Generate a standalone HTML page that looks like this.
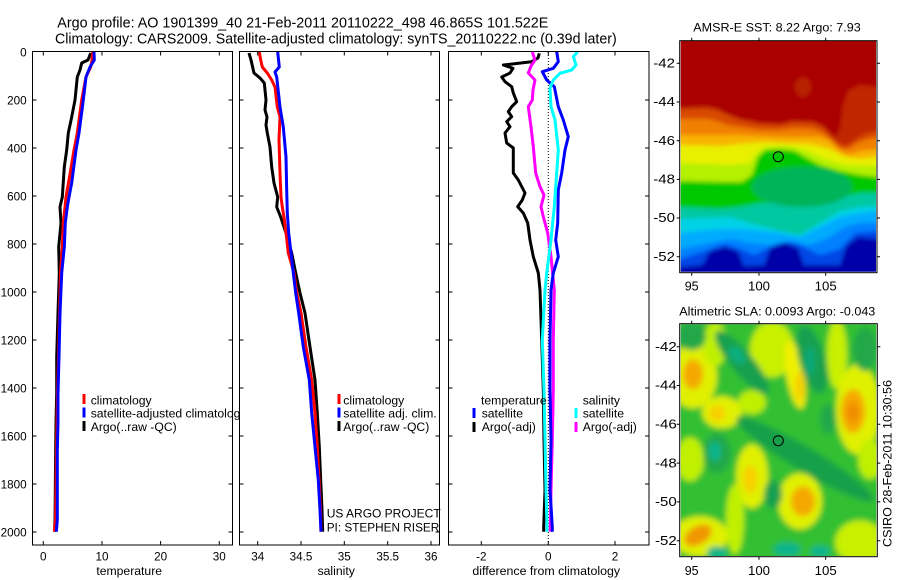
<!DOCTYPE html>
<html><head><meta charset="utf-8"><style>
html,body{margin:0;padding:0;background:#fff;width:900px;height:580px;overflow:hidden}
svg{display:block}
text{font-family:"Liberation Sans",Arial,sans-serif;fill:#000}
</style></head><body>
<svg width="900" height="580" viewBox="0 0 900 580" xmlns="http://www.w3.org/2000/svg">
<defs>
<clipPath id="c1"><rect x="0.7" y="0" width="195.3" height="230.7"/></clipPath>
<clipPath id="c2"><rect x="0.7" y="0" width="195.6" height="231.7"/></clipPath>
<filter id="bl" x="-10%" y="-10%" width="120%" height="120%"><feGaussianBlur stdDeviation="2"/></filter>
<filter id="bl2" x="-10%" y="-10%" width="120%" height="120%"><feGaussianBlur stdDeviation="3"/></filter>
</defs>
<rect width="900" height="580" fill="#fff"/>

<!-- Titles -->
<text x="57.3" y="27.3" font-size="14.5" textLength="491" lengthAdjust="spacingAndGlyphs">Argo profile: AO 1901399_40 21-Feb-2011 20110222_498 46.865S 101.522E</text>
<text x="55" y="43.3" font-size="14.5" textLength="561.7" lengthAdjust="spacingAndGlyphs">Climatology: CARS2009. Satellite-adjusted climatology: synTS_20110222.nc (0.39d later)</text>

<!-- ===== Panel 1: temperature ===== -->
<rect x="32.5" y="51.5" width="200" height="493.5" fill="#fff" stroke="none"/>
<g fill="none" stroke-width="3" stroke-linejoin="round">
<polyline stroke="#000" points="90.7,53 88,60 81.7,63 80,70 77.3,77 75,100 71.7,117 68.3,133 66.7,150 64.3,167 62.3,197 60,207 61,223 58.7,247 59.3,273 58,313 56.7,357 56.7,393 56,423 55.7,450 55,520 54.5,531.7"/>
<polyline stroke="#f00" points="92.7,52 92,60 90.7,67 86,77 81.7,100 77.3,133 74,150 69,180 66,197 65,207 63.3,223 62.3,247 60.5,273 59.5,313 58.5,357 57.5,393 57,423 56.5,450 55.5,520 54.3,531.7"/>
<polyline stroke="#00f" points="94,52 94.3,60 90,67 86,77 83.3,100 79,133 76,150 71.7,183 69,197 67.3,207 65.3,223 64.3,247 61.7,273 60,313 59,357 58,393 58,423 57.3,450 57.3,520 56.3,531.7"/>
</g>
<rect x="82.5" y="394" width="3" height="10" fill="#f00"/>
<rect x="82.5" y="407.5" width="3" height="10" fill="#00f"/>
<rect x="82.5" y="421" width="3" height="10" fill="#000"/>
<text x="90.7" y="404.3" font-size="12.2">climatology</text>
<text x="90.7" y="417.7" font-size="12.2">satellite-adjusted climatology</text>
<text x="90.7" y="431" font-size="12.2">Argo(..raw -QC)</text>

<!-- ===== Panel 2: salinity ===== -->
<rect x="239.5" y="51.5" width="200" height="493.5" fill="#fff" stroke="none"/>
<g fill="none" stroke-width="3" stroke-linejoin="round">
<polyline stroke="#000" points="249,53 251,60 254,73 260,78 264.3,83 266,100 265,110 267,117 266,125 267.3,133 270,147 271.7,167 274,183 277.7,197 276.7,207 280.7,217 286,233 291.7,253 295.7,273 300,293 305,313 310,347 315,380 317.3,413 319.3,447 320.7,480 322,510 322.7,531.7"/>
<polyline stroke="#f00" points="259.3,52 260.7,60 262.3,67 267.3,73 271.7,80 275,87 277.3,107 280,117 279,140 280,173 281,197 282.3,207 284,217 286,233 288.3,253 294,273 296.7,293 301,313 306,347 311.7,380 315,413 317.3,447 319,480 320.5,510 321,531.7"/>
<polyline stroke="#00f" points="277.7,52 279.3,67 275,72 276.7,77 280,107 283.3,127 286,157 286.7,190 287.3,213 288.7,233 291,253 293.3,273 295.7,293 298.7,313 303.3,347 309.3,380 311.7,413 315,447 318.3,480 320,510 321,531.7"/>
</g>
<rect x="337.5" y="394" width="3" height="10" fill="#f00"/>
<rect x="337.5" y="407.5" width="3" height="10" fill="#00f"/>
<rect x="337.5" y="421" width="3" height="10" fill="#000"/>
<text x="343.3" y="404.3" font-size="12.2">climatology</text>
<text x="343.3" y="417.7" font-size="12.2" textLength="93.4" lengthAdjust="spacingAndGlyphs">satellite adj. clim.</text>
<text x="343.3" y="431" font-size="12.2">Argo(..raw -QC)</text>
<text x="326.7" y="517.7" font-size="12.2" textLength="114" lengthAdjust="spacingAndGlyphs">US ARGO PROJECT</text>
<text x="326.7" y="531.7" font-size="12.2" textLength="112.6" lengthAdjust="spacingAndGlyphs">PI: STEPHEN RISER</text>

<!-- ===== Panel 3: differences ===== -->
<rect x="448.5" y="51.5" width="200.5" height="493.5" fill="#fff" stroke="none"/>
<line x1="548.3" y1="52" x2="548.3" y2="545" stroke="#000" stroke-width="1" stroke-dasharray="1 2"/>
<g fill="none" stroke-width="3" stroke-linejoin="round">
<polyline stroke="#000" points="539.3,53.3 538,58 531.7,61.7 503.3,65 513,68.3 510,73 501.7,77 505,81.7 511.7,86.7 513.3,93 516.7,101.7 511.7,106.7 508.3,111.7 511.7,116.7 506.7,121.7 510,126.7 505,133 506.7,143 513.3,148 513.3,173 518.3,180 525,193 522.3,200 517.7,206.7 523.3,213 527.7,223 530,240 533.3,256.7 538.3,273 540,290 541.7,340 543.3,390 544,440 545,490 543.7,527 543.7,531.7"/>
<polyline stroke="#f0f" points="532.3,52 535,60 531,66 528.3,73 535,80 533,90 532.3,100 528.3,106.7 531,126.7 533.3,146.7 535.7,173 540,186.7 544,195 541,206.7 543.3,216.7 547.7,233 551,256.7 554.3,290 553.3,340 553.3,390 552.3,440 551,490 550.3,531.7"/>
<polyline stroke="#00f" points="556.7,51.7 558.3,61.7 553.3,68.3 542.3,71.7 546.7,80 554.3,86.7 558.3,106.7 563.3,120 568.3,136.7 565,150 561.7,173 558.3,190 557.7,223 555.7,240 558.3,256.7 553.3,273 551,290 550,340 550,390 551,440 550,490 552.3,527 552.3,531.7"/>
<polyline stroke="#0ff" points="577.7,51.7 573.3,56.7 576,65 571.7,70 560,73.3 553.3,80 550,88.3 551,106.7 555,120 558.3,150 556.7,173 554.3,206.7 551,240 546.7,273 545,290 542.3,340 544,390 545,440 546,490 547,527 547,531.7"/>
</g>
<text x="481" y="404.3" font-size="12.2">temperature</text>
<rect x="472.5" y="408" width="3" height="10" fill="#00f"/>
<rect x="472.5" y="422" width="3" height="10" fill="#000"/>
<text x="481.7" y="417.7" font-size="12.2">satellite</text>
<text x="481.7" y="431" font-size="12.2">Argo(-adj)</text>
<text x="582.7" y="404.3" font-size="12.2">salinity</text>
<rect x="574.5" y="408" width="3" height="10" fill="#0ff"/>
<rect x="574.5" y="422" width="3" height="10" fill="#f0f"/>
<text x="582.7" y="417.7" font-size="12.2">satellite</text>
<text x="582.7" y="431" font-size="12.2">Argo(-adj)</text>

<!-- Panel boxes & ticks -->
<g fill="none" stroke="#000" stroke-width="1">
<rect x="32.5" y="51.5" width="200" height="493.5"/>
<rect x="239.5" y="51.5" width="200" height="493.5"/>
<rect x="448.5" y="51.5" width="200.5" height="493.5"/>
<path d="M32.5 100h4M32.5 148h4M32.5 196h4M32.5 244h4M32.5 292h4M32.5 340h4M32.5 388h4M32.5 436h4M32.5 484h4M32.5 532h4
M232.5 100h-4M232.5 148h-4M232.5 196h-4M232.5 244h-4M232.5 292h-4M232.5 340h-4M232.5 388h-4M232.5 436h-4M232.5 484h-4M232.5 532h-4
M239.5 100h4M239.5 148h4M239.5 196h4M239.5 244h4M239.5 292h4M239.5 340h4M239.5 388h4M239.5 436h4M239.5 484h4M239.5 532h4
M439.5 100h-4M439.5 148h-4M439.5 196h-4M439.5 244h-4M439.5 292h-4M439.5 340h-4M439.5 388h-4M439.5 436h-4M439.5 484h-4M439.5 532h-4
M448.5 100h4M448.5 148h4M448.5 196h4M448.5 244h4M448.5 292h4M448.5 340h4M448.5 388h4M448.5 436h4M448.5 484h4M448.5 532h4
M649 100h-4M649 148h-4M649 196h-4M649 244h-4M649 292h-4M649 340h-4M649 388h-4M649 436h-4M649 484h-4M649 532h-4
M43.3 51.5v4M102 51.5v4M160.6 51.5v4M219.3 51.5v4M43.3 545v-4M102 545v-4M160.6 545v-4M219.3 545v-4
M257.7 51.5v4M301 51.5v4M344.3 51.5v4M387.7 51.5v4M431 51.5v4M257.7 545v-4M301 545v-4M344.3 545v-4M387.7 545v-4M431 545v-4
M481.3 51.5v4M548.3 51.5v4M615 51.5v4M481.3 545v-4M548.3 545v-4M615 545v-4"/>
</g>

<!-- Y tick labels -->
<g font-size="11.7" text-anchor="end">
<text x="26.7" y="56.3">0</text>
<text x="26.7" y="104.3">200</text>
<text x="26.7" y="152.3">400</text>
<text x="26.7" y="200.3">600</text>
<text x="26.7" y="248.3">800</text>
<text x="26.7" y="296.3">1000</text>
<text x="26.7" y="344.3">1200</text>
<text x="26.7" y="392.3">1400</text>
<text x="26.7" y="440.3">1600</text>
<text x="26.7" y="488.3">1800</text>
<text x="26.7" y="536.3">2000</text>
</g>
<!-- X tick labels -->
<g font-size="11.7" text-anchor="middle">
<text x="43.3" y="560.7">0</text>
<text x="102" y="560.7">10</text>
<text x="160.6" y="560.7">20</text>
<text x="219.3" y="560.7">30</text>
<text x="257.7" y="560.7">34</text>
<text x="301" y="560.7">34.5</text>
<text x="344.3" y="560.7">35</text>
<text x="387.7" y="560.7">35.5</text>
<text x="431" y="560.7">36</text>
<text x="481.3" y="560.7">-2</text>
<text x="548.3" y="560.7">0</text>
<text x="615" y="560.7">2</text>
</g>
<g font-size="12.2" text-anchor="middle">
<text x="129.2" y="575">temperature</text>
<text x="336.2" y="575">salinity</text>
<text x="546.2" y="575" textLength="147.7" lengthAdjust="spacingAndGlyphs">difference from climatology</text>
</g>

<!-- ===== SST map ===== -->
<text x="693.3" y="31.7" font-size="12.4" textLength="167.4" lengthAdjust="spacingAndGlyphs">AMSR-E SST: 8.22 Argo: 7.93</text>
<g transform="translate(680,41)">
<g clip-path="url(#c1)">
<g filter="url(#bl)">
<rect x="-10" y="-10" width="217" height="251" fill="#0000a8"/>
<path fill="#0046e6" d="M-10,226 L0,226 22,224 30,210 45,206 58,210 64,225 84,224 90,207 105,202 118,207 124,224 160,224 166,205 178,196 197,198 207,198 207,-10 -10,-10Z"/>
<path fill="#0080ff" d="M-10,218 L0,218 25,210 45,203 60,208 75,214 90,206 105,200 120,204 140,214 160,208 175,192 197,190 207,190 207,-10 -10,-10Z"/>
<path fill="#00aaff" d="M-10,208 L0,208 30,202 50,198 70,202 90,204 110,200 130,204 150,196 165,186 180,182 197,182 207,182 207,-10 -10,-10Z"/>
<path fill="#00d2e6" d="M-10,192 L0,192 40,188 60,188 80,190 100,192 120,196 140,186 160,176 180,172 197,170 207,170 207,-10 -10,-10Z"/>
<path fill="#00c8a0" d="M-10,178 L0,178 50,176 70,182 100,190 120,194 140,182 160,170 180,166 197,165 207,165 207,-10 -10,-10Z"/>
<path fill="#00c800" d="M-10,166 L0,166 40,168 60,166 80,162 100,162 130,160 160,156 180,152 197,152 207,152 207,-10 -10,-10Z"/>
<ellipse cx="122" cy="146" rx="50" ry="20" fill="#00b45a"/>
<path fill="#b4f000" d="M-10,140 L0,140 40,141 62,141 72,134 78,116 85,109 100,108 115,110 125,116 140,124 160,130 180,134 197,136 207,136 207,-10 -10,-10Z"/>
<path fill="#e8f000" d="M-10,122 L0,122 50,124 70,122 76,113 85,106 110,105 125,109 145,118 165,124 197,125 207,125 207,-10 -10,-10Z"/>
<path fill="#f8b400" d="M-10,104 L0,104 40,105 60,103 85,101 100,102 130,103 150,108 165,116 180,118 197,116 207,116 207,-10 -10,-10Z"/>
<path fill="#f08000" d="M-10,94 L0,94 40,94 60,94 100,96 140,96 150,100 160,110 170,113 180,110 197,108 207,108 207,-10 -10,-10Z"/>
<path fill="#d84800" d="M-10,78 L0,78 27,78 37,80 47,84 60,86 80,89 100,89 113,87 133,88 143,92 150,98 157,104 163,108 170,107 177,102 187,98 197,96 207,96 207,-10 -10,-10Z"/>
<path fill="#c02800" d="M-10,68 L0,68 27,67 37,69 47,74 60,79 80,83 100,84 113,81 133,82 143,86 150,94 157,101 163,105 170,103 177,97 187,92 197,90 207,90 207,-10 -10,-10Z"/>
<path fill="#aa0000" d="M-10,67 L0,67 27,66 37,68 47,73 60,78 80,82 100,83 113,80 133,81 143,85 150,92 155,96 160,88 163,65 168,50 180,44 197,46 207,46 207,-10 -10,-10Z"/>
<ellipse cx="123" cy="46" rx="8" ry="10" fill="#b82000"/>
</g>
</g>
</g>
<circle cx="778.3" cy="156.7" r="5" fill="none" stroke="#000" stroke-width="1"/>
<rect x="679.7" y="40.7" width="197.3" height="232" fill="none" stroke="#000" stroke-width="1"/>
<path stroke="#000" stroke-width="1" d="M676.7 63.3h3M676.7 102h3M676.7 140.7h3M676.7 179.4h3M676.7 218h3M676.7 256.7h3M877 63.3h3M877 102h3M877 140.7h3M877 179.4h3M877 218h3M877 256.7h3M691.7 37.7v3M759 37.7v3M825.7 37.7v3M691.7 272.7v3M759 272.7v3M825.7 272.7v3"/>
<g font-size="12.5" text-anchor="end">
<text x="675" y="67.5" textLength="21.7" lengthAdjust="spacingAndGlyphs">-42</text>
<text x="675" y="106.2" textLength="21.7" lengthAdjust="spacingAndGlyphs">-44</text>
<text x="675" y="144.9" textLength="21.7" lengthAdjust="spacingAndGlyphs">-46</text>
<text x="675" y="183.6" textLength="21.7" lengthAdjust="spacingAndGlyphs">-48</text>
<text x="675" y="222.2" textLength="21.7" lengthAdjust="spacingAndGlyphs">-50</text>
<text x="675" y="260.9" textLength="21.7" lengthAdjust="spacingAndGlyphs">-52</text>
</g>
<g font-size="12.5" text-anchor="middle">
<text x="691.7" y="290.7">95</text>
<text x="759" y="290.7" textLength="22" lengthAdjust="spacingAndGlyphs">100</text>
<text x="825.7" y="290.7" textLength="22" lengthAdjust="spacingAndGlyphs">105</text>
</g>

<!-- ===== SLA map ===== -->
<text x="679.3" y="315.7" font-size="12.4" textLength="196" lengthAdjust="spacingAndGlyphs">Altimetric SLA: 0.0093 Argo: -0.043</text>
<g transform="translate(680,324.3)">
<g clip-path="url(#c2)">
<g filter="url(#bl2)">
<rect x="-10" y="-10" width="217" height="252" fill="#32c032"/>
<ellipse cx="13" cy="52" rx="24" ry="32" fill="#e0f000"/>
<ellipse cx="35" cy="20" rx="12" ry="22" fill="#c0f000"/>
<ellipse cx="92" cy="25" rx="22" ry="28" fill="#c8f000"/>
<ellipse cx="115" cy="50" rx="9" ry="35" fill="#eef000" transform="rotate(-10 115 50)"/>
<ellipse cx="157" cy="30" rx="10" ry="35" fill="#c8f000"/>
<ellipse cx="178" cy="85" rx="22" ry="45" fill="#e0f000"/>
<ellipse cx="42" cy="88" rx="20" ry="16" fill="#e0f000"/>
<ellipse cx="72" cy="78" rx="14" ry="12" fill="#c0f000"/>
<ellipse cx="10" cy="135" rx="14" ry="22" fill="#c0f000"/>
<ellipse cx="72" cy="152" rx="16" ry="32" fill="#e0f000"/>
<ellipse cx="120" cy="177" rx="22" ry="28" fill="#e0f000"/>
<ellipse cx="190" cy="135" rx="12" ry="20" fill="#c0f000"/>
<ellipse cx="180" cy="218" rx="25" ry="22" fill="#c8f000"/>
<ellipse cx="20" cy="212" rx="28" ry="20" fill="#e0f000"/>
<ellipse cx="55" cy="195" rx="9" ry="35" fill="#c0f000"/>
<ellipse cx="12" cy="12" rx="14" ry="14" fill="#20a848"/>
<ellipse cx="62" cy="38" rx="40" ry="11" fill="#18a050" transform="rotate(50 62 38)"/>
<ellipse cx="132" cy="35" rx="13" ry="35" fill="#18a050" transform="rotate(-15 132 35)"/>
<ellipse cx="185" cy="25" rx="12" ry="22" fill="#20a848"/>
<ellipse cx="125" cy="135" rx="80" ry="12" fill="#18a048" transform="rotate(31 125 135)"/>
<ellipse cx="37" cy="129" rx="14" ry="20" fill="#20a848"/>
<ellipse cx="93" cy="170" rx="9" ry="14" fill="#18a050"/>
<ellipse cx="148" cy="95" rx="8" ry="15" fill="#20a848"/>
<ellipse cx="13" cy="50" rx="10" ry="15" fill="#f5a800"/>
<ellipse cx="173" cy="87" rx="12" ry="22" fill="#f5a800"/>
<ellipse cx="173" cy="88" rx="6" ry="10" fill="#f08c00"/>
<ellipse cx="37" cy="89" rx="8" ry="8" fill="#f8d000"/>
<ellipse cx="70" cy="155" rx="7" ry="14" fill="#f8d000"/>
<ellipse cx="123" cy="177" rx="12" ry="15" fill="#f5a800"/>
<ellipse cx="18" cy="211" rx="15" ry="9" fill="#f09600" transform="rotate(-30 18 211)"/>
<ellipse cx="120" cy="62" rx="5" ry="15" fill="#f8d000"/>
<ellipse cx="57" cy="31" rx="10" ry="6" fill="#10b080" transform="rotate(50 57 31)"/>
<ellipse cx="35" cy="127" rx="6" ry="10" fill="#10b48c"/>
<ellipse cx="37" cy="228" rx="10" ry="6" fill="#10b48c"/>
<ellipse cx="107" cy="225" rx="14" ry="7" fill="#10b48c"/>
<ellipse cx="140" cy="227" rx="10" ry="6" fill="#10b48c"/>
<ellipse cx="130" cy="37" rx="5" ry="15" fill="#10a878"/>
</g>
</g>
</g>
<circle cx="778.3" cy="440.7" r="5" fill="none" stroke="#000" stroke-width="1"/>
<rect x="679.7" y="323.7" width="197.6" height="233" fill="none" stroke="#000" stroke-width="1"/>
<path stroke="#000" stroke-width="1" d="M676.7 346.7h3M676.7 385.5h3M676.7 424.3h3M676.7 463.1h3M676.7 501.9h3M676.7 540.7h3M877.3 346.7h3M877.3 385.5h3M877.3 424.3h3M877.3 463.1h3M877.3 501.9h3M877.3 540.7h3M691.7 320.7v3M759 320.7v3M825.7 320.7v3M691.7 556.7v3M759 556.7v3M825.7 556.7v3"/>
<g font-size="12.5" text-anchor="end">
<text x="676.7" y="350.9" textLength="21.7" lengthAdjust="spacingAndGlyphs">-42</text>
<text x="676.7" y="389.7" textLength="21.7" lengthAdjust="spacingAndGlyphs">-44</text>
<text x="676.7" y="428.5" textLength="21.7" lengthAdjust="spacingAndGlyphs">-46</text>
<text x="676.7" y="467.3" textLength="21.7" lengthAdjust="spacingAndGlyphs">-48</text>
<text x="676.7" y="506.1" textLength="21.7" lengthAdjust="spacingAndGlyphs">-50</text>
<text x="676.7" y="544.9" textLength="21.7" lengthAdjust="spacingAndGlyphs">-52</text>
</g>
<g font-size="12.5" text-anchor="middle">
<text x="691.7" y="575">95</text>
<text x="759" y="575" textLength="22" lengthAdjust="spacingAndGlyphs">100</text>
<text x="825.7" y="575" textLength="22" lengthAdjust="spacingAndGlyphs">105</text>
</g>
<text transform="translate(891.5,463.5) rotate(-90)" x="0" y="0" font-size="12" text-anchor="middle" textLength="167" lengthAdjust="spacingAndGlyphs">CSIRO 28-Feb-2011 10:30:56</text>
</svg>
</body></html>
